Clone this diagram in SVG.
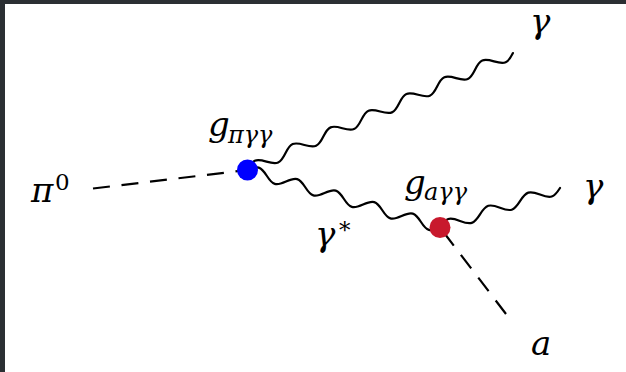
<svg xmlns="http://www.w3.org/2000/svg" width="626" height="372" viewBox="0 0 626 372">
<style>
.wave{fill:none;stroke:#000;stroke-width:2.2;stroke-linecap:round}
.dash{fill:none;stroke:#000;stroke-width:2.2;stroke-dasharray:17 11.7}
.lbl{font-family:"DejaVu Serif","Liberation Serif",serif;font-style:italic;fill:#000}
.up{font-family:"DejaVu Serif","Liberation Serif",serif;font-style:normal;fill:#000}
</style>
<rect x="0" y="0" width="626" height="372" fill="#2b2f33"/>
<rect x="5" y="4" width="621" height="368" fill="#fff"/>
<g id="connectors">
  <path class="dash" d="M93,188.5 L247.5,170"/>
  <path class="dash" d="M506,314 L440,227.5"/>
  <path class="wave" transform="translate(247.5,170) rotate(-23.78)" d="M0,0 c3.38,-2.82 6.63,-5.5 10.36,-5.5
    s6.98,2.68 10.36,5.5 s6.63,5.5 10.36,5.5 s6.98,-2.68 10.36,-5.5 s6.63,-5.5 10.36,-5.5
    s6.98,2.68 10.36,5.5 s6.63,5.5 10.36,5.5 s6.98,-2.68 10.36,-5.5 s6.63,-5.5 10.36,-5.5
    s6.98,2.68 10.36,5.5 s6.63,5.5 10.36,5.5 s6.98,-2.68 10.36,-5.5 s6.63,-5.5 10.36,-5.5
    s6.98,2.68 10.36,5.5 s6.63,5.5 10.36,5.5 s6.98,-2.68 10.36,-5.5 s6.63,-5.5 10.36,-5.5
    s6.98,2.68 10.36,5.5 s6.63,5.5 10.36,5.5 s6.98,-2.68 10.36,-5.5 s6.63,-5.5 10.36,-5.5
    s6.98,2.68 10.36,5.5 s6.63,5.5 10.36,5.5 s6.98,-2.68 10.36,-5.5 s6.63,-5.5 10.36,-5.5
    s6.98,2.68 10.36,5.5 s6.63,5.5 10.36,5.5 s6.98,-2.68 10.36,-5.5"/>
  <path class="wave" transform="translate(247.5,170) rotate(16.63)" d="M0,0 c3.28,-2.82 6.43,-5.5 10.05,-5.5
    s6.77,2.68 10.05,5.5 s6.43,5.5 10.05,5.5 s6.77,-2.68 10.05,-5.5 s6.43,-5.5 10.05,-5.5
    s6.77,2.68 10.05,5.5 s6.43,5.5 10.05,5.5 s6.77,-2.68 10.05,-5.5 s6.43,-5.5 10.05,-5.5
    s6.77,2.68 10.05,5.5 s6.43,5.5 10.05,5.5 s6.77,-2.68 10.05,-5.5 s6.43,-5.5 10.05,-5.5
    s6.77,2.68 10.05,5.5 s6.43,5.5 10.05,5.5 s6.77,-2.68 10.05,-5.5 s6.43,-5.5 10.05,-5.5
    s6.77,2.68 10.05,5.5 s6.43,5.5 10.05,5.5 s6.77,-2.68 10.05,-5.5"/>
  <path class="wave" transform="translate(440,227.5) rotate(-18.22)" d="M0,0 c3.43,-2.82 6.73,-5.5 10.53,-5.5
    s7.09,2.68 10.53,5.5 s6.73,5.5 10.53,5.5 s7.09,-2.68 10.53,-5.5 s6.73,-5.5 10.53,-5.5
    s7.09,2.68 10.53,5.5 s6.73,5.5 10.53,5.5 s7.09,-2.68 10.53,-5.5 s6.73,-5.5 10.53,-5.5
    s7.09,2.68 10.53,5.5 s6.73,5.5 10.53,5.5 s7.09,-2.68 10.53,-5.5"/>
</g>
<g id="pion">
  <text class="lbl" x="31" y="202" font-size="34">π</text>
  <text class="up" x="55" y="190" font-size="23">0</text>
</g>
<g id="vertex-pi">
  <circle cx="247.5" cy="170" r="10.5" fill="#0000ff"/>
  <text class="lbl" x="208" y="136" font-size="34">g</text>
  <text class="lbl" x="228" y="143" font-size="24">πγγ</text>
</g>
<g id="vertex-a">
  <circle cx="440" cy="227.5" r="10.5" fill="#c8192d"/>
  <text class="lbl" x="404" y="194" font-size="34">g</text>
  <text class="lbl" x="424" y="200" font-size="24">aγγ</text>
</g>
<g id="photon-top">
  <text class="lbl" x="530" y="33" font-size="34">γ</text>
</g>
<g id="photon-right">
  <text class="lbl" x="583" y="198" font-size="34">γ</text>
</g>
<g id="photon-virtual">
  <text class="lbl" x="315" y="246" font-size="34">γ</text>
  <text class="up" x="339" y="238" font-size="23">*</text>
</g>
<g id="axion">
  <text class="lbl" x="531" y="355" font-size="34">a</text>
</g>
</svg>
